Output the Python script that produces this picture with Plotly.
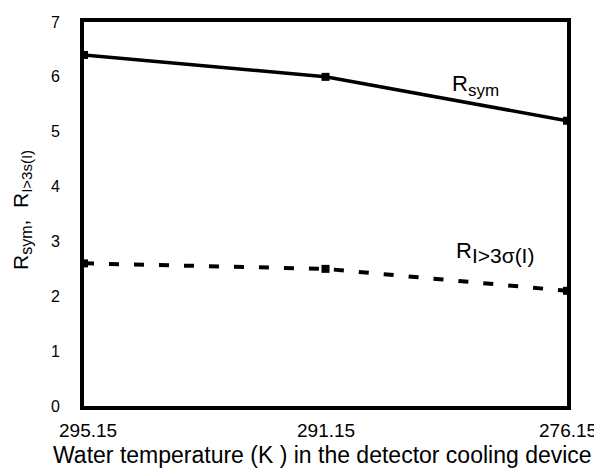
import plotly.graph_objects as go

categories = ["295.15", "291.15", "276.15"]
r_sym = [6.4, 6.0, 5.2]
r_i3s = [2.6, 2.5, 2.1]
y_ticks = [0, 1, 2, 3, 4, 5, 6, 7]

xpos = list(range(len(categories)))
font = "Liberation Sans, Arial, sans-serif"

fig = go.Figure()
fig.add_trace(go.Scatter(x=xpos, y=r_sym, mode="lines+markers",
                         line=dict(color="black", width=3.5),
                         marker=dict(symbol="square", size=8, color="black"),
                         cliponaxis=False, showlegend=False))
fig.add_trace(go.Scatter(x=xpos, y=r_i3s, mode="lines+markers",
                         line=dict(color="black", width=4, dash="10px,15px"),
                         marker=dict(symbol="square", size=8, color="black"),
                         cliponaxis=False, showlegend=False))

fig.update_xaxes(range=[0, 2], showticklabels=False, showgrid=False, zeroline=False,
                 showline=True, linewidth=4, linecolor="black", mirror=True, ticks="",
                 automargin=False)
fig.update_yaxes(range=[0, 7], tickvals=y_ticks, showgrid=False, zeroline=False,
                 showline=True, linewidth=4, linecolor="black", mirror=True, ticks="",
                 automargin=False,
                 tickfont=dict(size=16, color="black", family=font), ticklabelstandoff=17)

fig.add_annotation(x=0, y=0.5, xref="paper", yref="paper", xanchor="center",
                   text="R<sub><span style='font-size:16px'>sym</span></sub>,  R<sub><span style='font-size:15px'>I>3s(I)</span></sub>",
                   textangle=-90, showarrow=False, xshift=-62, yshift=4,
                   font=dict(size=21, color="black", family=font))

shifts = [4, 0, 1]
for i, c in enumerate(categories):
    fig.add_annotation(x=xpos[i], y=0, xref="x", yref="paper", text=c, showarrow=False,
                       yanchor="top", yshift=-12, xshift=shifts[i],
                       font=dict(size=19, color="black", family=font))
fig.add_annotation(x=0.5, y=0, xref="paper", yref="paper",
                   text="Water temperature (K ) in the detector cooling device",
                   showarrow=False, yanchor="top", yshift=-34, xshift=-3,
                   font=dict(size=23, color="black", family=font))
fig.add_annotation(x=1.62, y=5.85, xref="x", yref="y",
                   text="R<sub><span style='font-size:17px'>sym</span></sub>",
                   showarrow=False, font=dict(size=22, color="black", family=font))
fig.add_annotation(x=1.7, y=2.8, xref="x", yref="y",
                   text="R<sub><span style='font-size:21px'>I>3σ(I)</span></sub>",
                   showarrow=False, font=dict(size=22, color="black", family=font))

# the page body adds an 8px offset; size the figure so its plot area lands where the reference's does
fig.update_layout(width=594, height=460, margin=dict(l=76, r=35, t=14, b=62),
                  plot_bgcolor="white", paper_bgcolor="white")
fig.write_html("out.html")
